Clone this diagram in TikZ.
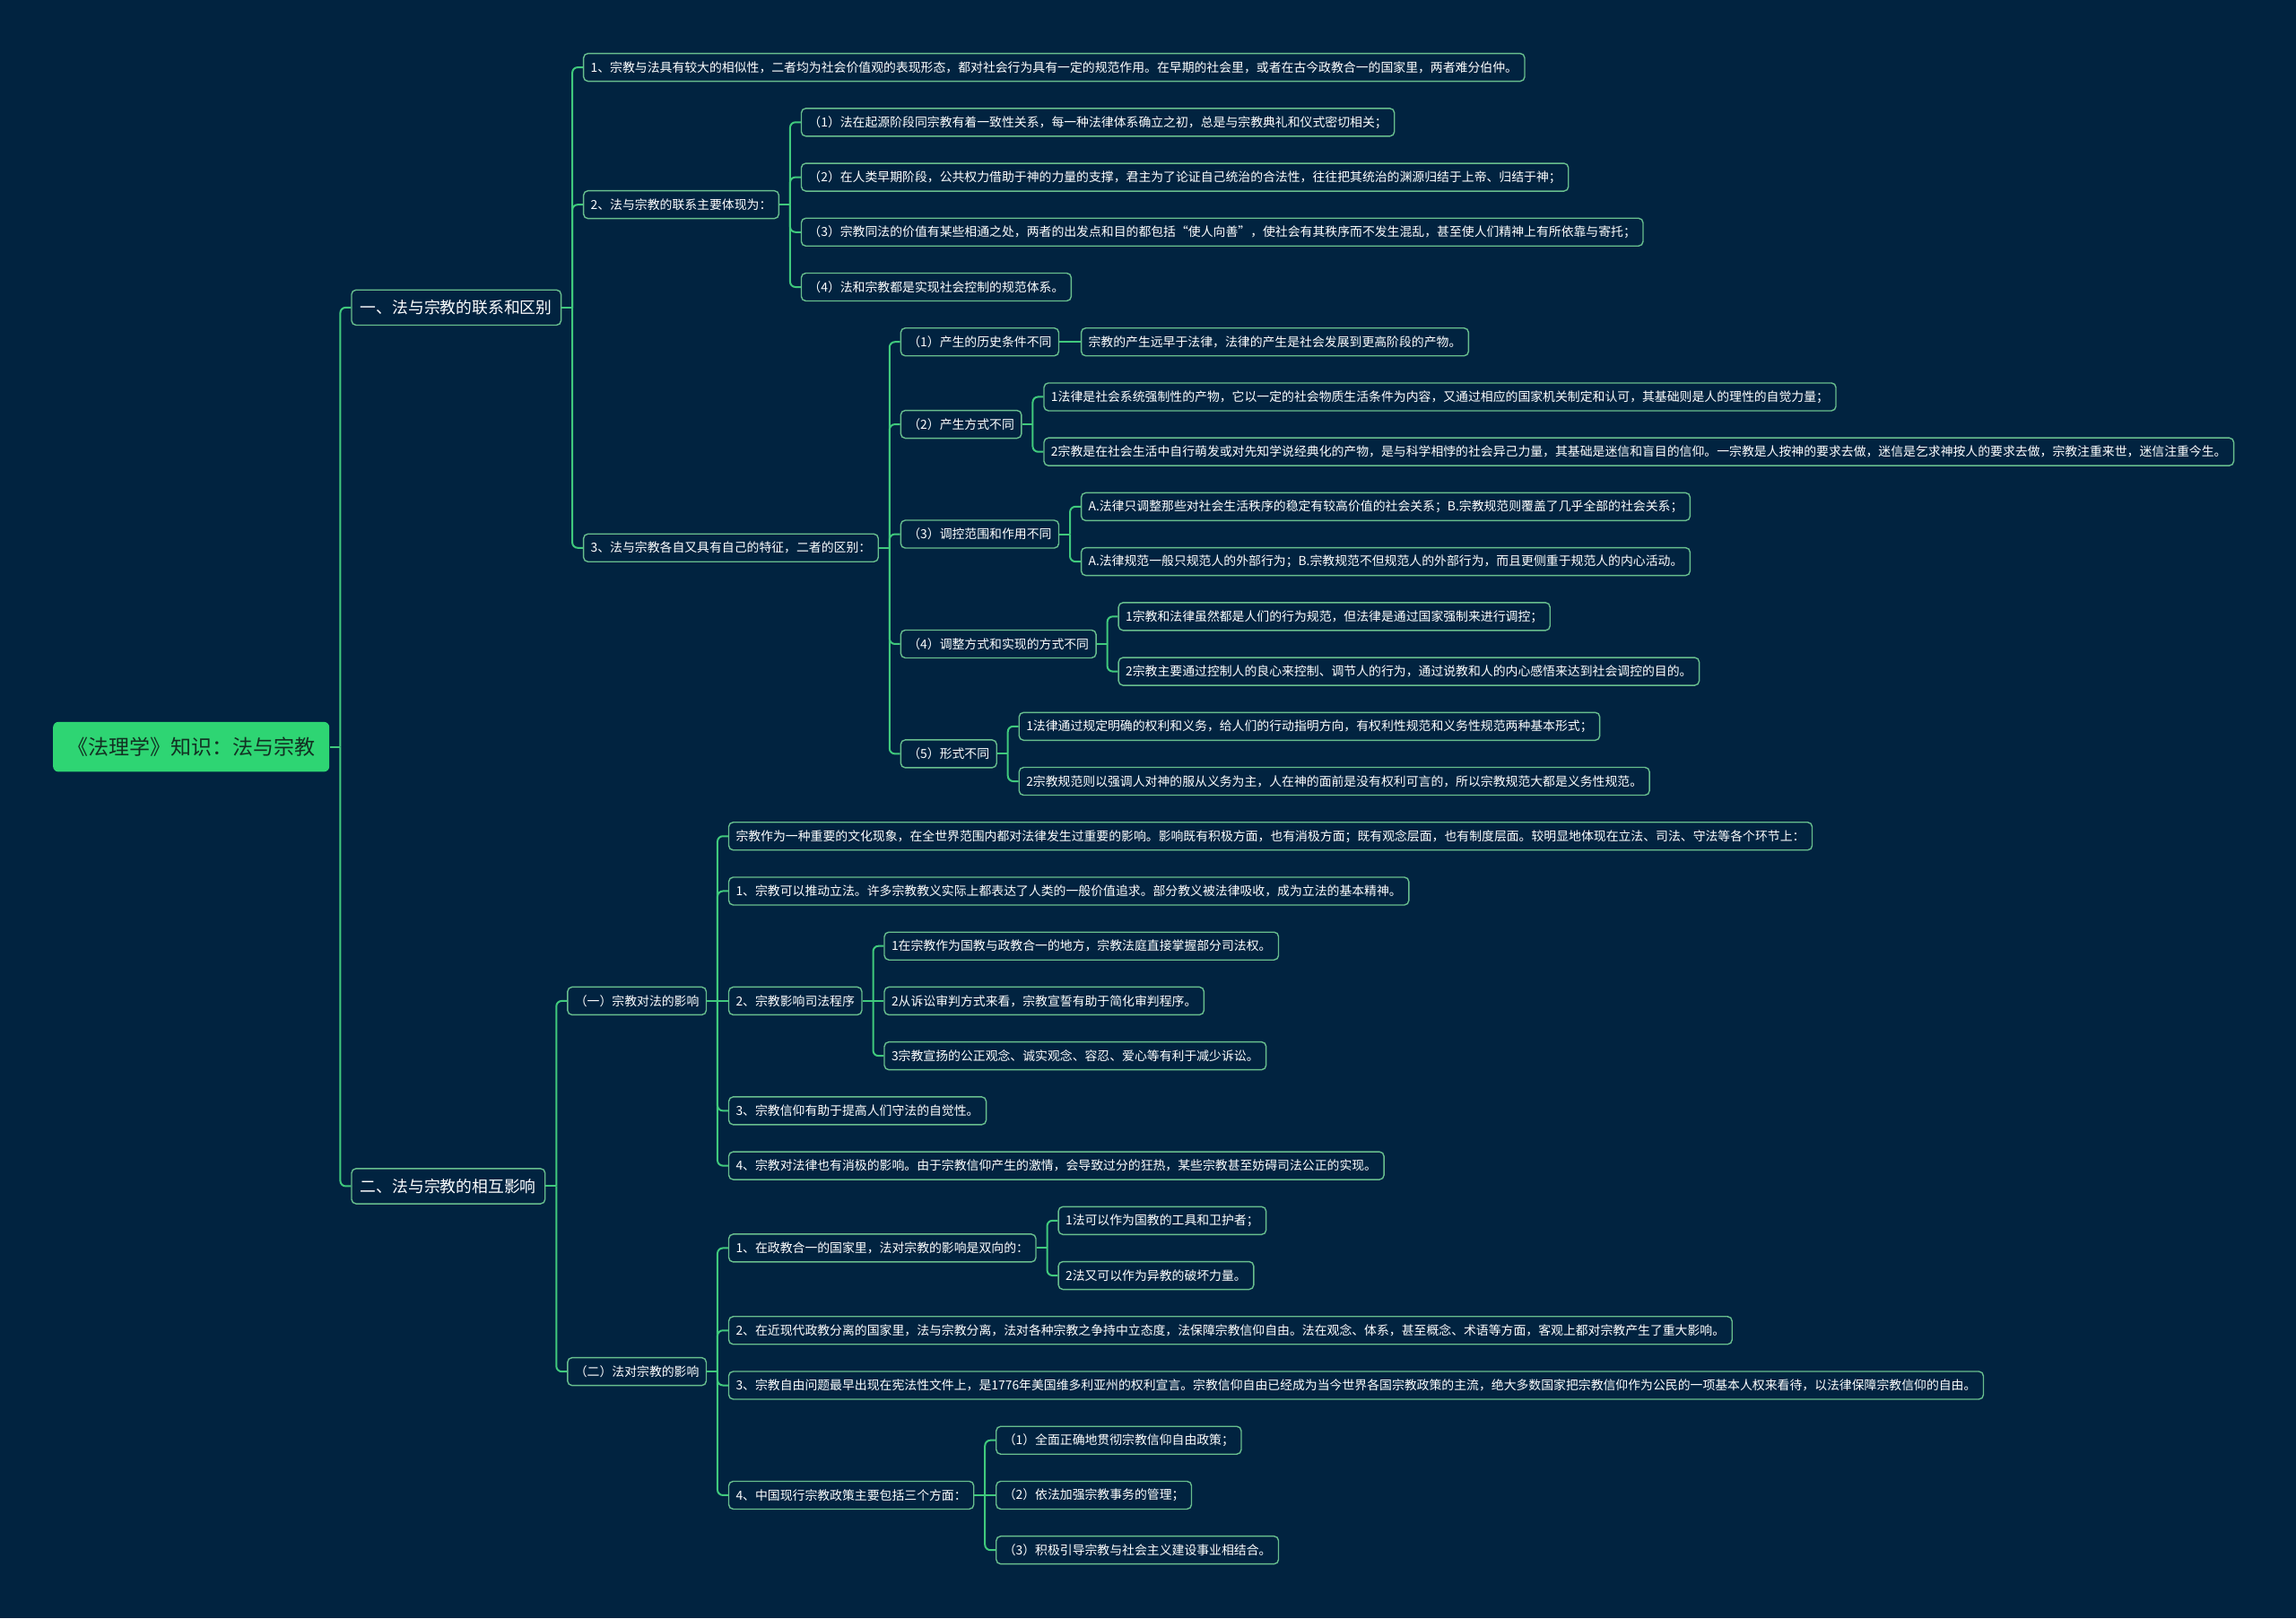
\documentclass[tikz,border=0pt]{standalone}
\usepackage{fontspec}
\newfontfamily\cjk{Noto Sans CJK SC}
\usetikzlibrary{calc}
\definecolor{bgcol}{RGB}{1,35,64}
\definecolor{conncol}{RGB}{64,201,125}
\definecolor{bordcol}{RGB}{104,190,142}
\definecolor{rootfill}{RGB}{46,213,115}
\definecolor{roottext}{RGB}{18,48,34}
\newcommand\mkbus[1]{\coordinate (#1B) at ($(#1.east)+(7.25,0)$); \draw[link] (#1.east) -- (#1B);}
\newcommand\mkkid[5][leaf]{%
  \node[#1] (#3) at ($(#2B |- 0,#4)+(7.25,0)$) {#5};
  \draw[link] (#2B) |- (#3.west);}
\newcommand\mkmid[4]{%
  \node[leaf] (#2) at ($(#1B |- 0,#3)+(7.25,0)$) {#4};
  \draw[link] (#1B) -- (#2.west);}
\begin{document}
\begin{tikzpicture}[x=0.8163pt,y=-0.8163pt,
  base/.style={rounded corners=2.5pt, line width=0.7pt, draw=bordcol, fill=bgcol, text=white, anchor=west, inner ysep=0pt},
  leaf/.style={base, font=\cjk\fontsize{6.93}{8}\selectfont, minimum height=15.5pt, inner xsep=4pt},
  lvone/.style={base, font=\cjk\fontsize{8.9}{10}\selectfont, minimum height=19.6pt, inner xsep=5pt},
  rootbox/.style={rounded corners=3pt, fill=rootfill, draw=none, text=roottext, font=\cjk\fontsize{11.5}{13}\selectfont, minimum height=27.8pt, inner xsep=8pt, anchor=west},
  link/.style={draw=conncol, line width=1pt, rounded corners=3pt},
]
\fill[bgcol] (0,0) rectangle (1568,1105);
\useasboundingbox (0,0) rectangle (1568,1105);

\node[rootbox] (root) at (36,510) {《法理学》知识：法与宗教};
\mkbus{root}
\mkkid[lvone]{root}{A}{210}{一、法与宗教的联系和区别}
\mkkid[lvone]{root}{B}{810}{二、法与宗教的相互影响}

% ---- branch A
\mkbus{A}
\mkkid{A}{A1}{46}{1、宗教与法具有较大的相似性，二者均为社会价值观的表现形态，都对社会行为具有一定的规范作用。在早期的社会里，或者在古今政教合一的国家里，两者难分伯仲。}
\mkkid{A}{A2}{139.75}{2、法与宗教的联系主要体现为：}
\mkkid{A}{A3}{374.1}{3、法与宗教各自又具有自己的特征，二者的区别：}

\mkbus{A2}
\mkkid{A2}{A21}{83.5}{（1）法在起源阶段同宗教有着一致性关系，每一种法律体系确立之初，总是与宗教典礼和仪式密切相关；}
\mkkid{A2}{A22}{121}{（2）在人类早期阶段，公共权力借助于神的力量的支撑，君主为了论证自己统治的合法性，往往把其统治的渊源归结于上帝、归结于神；}
\mkkid{A2}{A23}{158.5}{（3）宗教同法的价值有某些相通之处，两者的出发点和目的都包括“使人向善”，使社会有其秩序而不发生混乱，甚至使人们精神上有所依靠与寄托；}
\mkkid{A2}{A24}{196}{（4）法和宗教都是实现社会控制的规范体系。}

\mkbus{A3}
\mkkid{A3}{A31}{233.5}{（1）产生的历史条件不同}
\mkkid{A3}{A32}{289.75}{（2）产生方式不同}
\mkkid{A3}{A33}{364.75}{（3）调控范围和作用不同}
\mkkid{A3}{A34}{439.75}{（4）调整方式和实现的方式不同}
\mkkid{A3}{A35}{514.75}{（5）形式不同}

\mkbus{A31}
\mkmid{A31}{A311}{233.5}{宗教的产生远早于法律，法律的产生是社会发展到更高阶段的产物。}

\mkbus{A32}
\mkkid{A32}{A321}{271}{1法律是社会系统强制性的产物，它以一定的社会物质生活条件为内容，又通过相应的国家机关制定和认可，其基础则是人的理性的自觉力量；}
\mkkid{A32}{A322}{308.5}{2宗教是在社会生活中自行萌发或对先知学说经典化的产物，是与科学相悖的社会异己力量，其基础是迷信和盲目的信仰。一宗教是人按神的要求去做，迷信是乞求神按人的要求去做，宗教注重来世，迷信注重今生。}

\mkbus{A33}
\mkkid{A33}{A331}{346}{A.法律只调整那些对社会生活秩序的稳定有较高价值的社会关系；B.宗教规范则覆盖了几乎全部的社会关系；}
\mkkid{A33}{A332}{383.5}{A.法律规范一般只规范人的外部行为；B.宗教规范不但规范人的外部行为，而且更侧重于规范人的内心活动。}

\mkbus{A34}
\mkkid{A34}{A341}{421}{1宗教和法律虽然都是人们的行为规范，但法律是通过国家强制来进行调控；}
\mkkid{A34}{A342}{458.5}{2宗教主要通过控制人的良心来控制、调节人的行为，通过说教和人的内心感悟来达到社会调控的目的。}

\mkbus{A35}
\mkkid{A35}{A351}{496}{1法律通过规定明确的权利和义务，给人们的行动指明方向，有权利性规范和义务性规范两种基本形式；}
\mkkid{A35}{A352}{533.5}{2宗教规范则以强调人对神的服从义务为主，人在神的面前是没有权利可言的，所以宗教规范大都是义务性规范。}

% ---- branch B
\mkbus{B}
\mkkid{B}{B1}{683.5}{（一）宗教对法的影响}
\mkkid{B}{B2}{936.6}{（二）法对宗教的影响}

\mkbus{B1}
\mkkid{B1}{B10}{571}{宗教作为一种重要的文化现象，在全世界范围内都对法律发生过重要的影响。影响既有积极方面，也有消极方面；既有观念层面，也有制度层面。较明显地体现在立法、司法、守法等各个环节上：}
\mkkid{B1}{B11}{608.5}{1、宗教可以推动立法。许多宗教教义实际上都表达了人类的一般价值追求。部分教义被法律吸收，成为立法的基本精神。}
\mkmid{B1}{B12}{683.5}{2、宗教影响司法程序}
\mkkid{B1}{B13}{758.5}{3、宗教信仰有助于提高人们守法的自觉性。}
\mkkid{B1}{B14}{796}{4、宗教对法律也有消极的影响。由于宗教信仰产生的激情，会导致过分的狂热，某些宗教甚至妨碍司法公正的实现。}

\mkbus{B12}
\mkkid{B12}{B121}{646}{1在宗教作为国教与政教合一的地方，宗教法庭直接掌握部分司法权。}
\mkmid{B12}{B122}{683.5}{2从诉讼审判方式来看，宗教宣誓有助于简化审判程序。}
\mkkid{B12}{B123}{721}{3宗教宣扬的公正观念、诚实观念、容忍、爱心等有利于减少诉讼。}

\mkbus{B2}
\mkkid{B2}{B21}{852.25}{1、在政教合一的国家里，法对宗教的影响是双向的：}
\mkkid{B2}{B22}{908.5}{2、在近现代政教分离的国家里，法与宗教分离，法对各种宗教之争持中立态度，法保障宗教信仰自由。法在观念、体系，甚至概念、术语等方面，客观上都对宗教产生了重大影响。}
\mkkid{B2}{B23}{946}{3、宗教自由问题最早出现在宪法性文件上，是1776年美国维多利亚州的权利宣言。宗教信仰自由已经成为当今世界各国宗教政策的主流，绝大多数国家把宗教信仰作为公民的一项基本人权来看待，以法律保障宗教信仰的自由。}
\mkkid{B2}{B24}{1021}{4、中国现行宗教政策主要包括三个方面：}

\mkbus{B21}
\mkkid{B21}{B211}{833.5}{1法可以作为国教的工具和卫护者；}
\mkkid{B21}{B212}{871}{2法又可以作为异教的破坏力量。}

\mkbus{B24}
\mkkid{B24}{B241}{983.5}{（1）全面正确地贯彻宗教信仰自由政策；}
\mkmid{B24}{B242}{1021}{（2）依法加强宗教事务的管理；}
\mkkid{B24}{B243}{1058.5}{（3）积极引导宗教与社会主义建设事业相结合。}
\end{tikzpicture}
\end{document}
